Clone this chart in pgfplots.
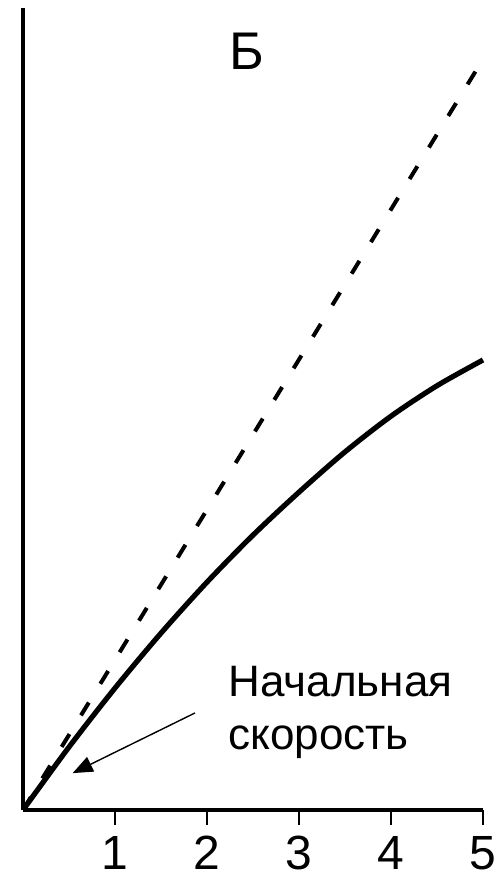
\documentclass[border=0pt]{standalone}
\usepackage{fontspec}
\setmainfont{Liberation Sans}
\usepackage{pgfplots}
\pgfplotsset{compat=1.18}
\usetikzlibrary{arrows.meta}
\begin{document}
\begin{tikzpicture}
\begin{axis}[
  scale only axis, width=230pt, height=401pt,
  xmin=0, xmax=5, ymin=0, ymax=10,
  axis lines=left, axis line style={line width=1.6pt, -},
  xtick={1,2,3,4,5}, ytick=\empty,
  tick align=outside, major tick length=7.5pt,
  tick style={line width=1.2pt, black},
  xticklabel style={font=\fontsize{24}{28}\selectfont, yshift=-2pt},
  /pgf/number format/assume math mode=true,
  clip=false,
]
% dashed straight line (initial velocity)
\addplot[black, line width=2pt, dash pattern=on 7.5pt off 11pt] coordinates {(0,0) (4.93,9.23)};
% measured curve
\addplot[black, line width=2.6pt, smooth, tension=0.5] coordinates {
  (0,0) (0.5,0.785) (1.0,1.520) (1.5,2.205) (2.0,2.841) (2.5,3.427)
  (3.0,3.963) (3.5,4.465) (4.0,4.910) (4.5,5.290) (5.0,5.611)};
% annotation
\draw[line width=0.7pt, -{Triangle[length=10pt, width=8pt]}] (axis cs:1.87,1.21) -- (axis cs:0.54,0.46);
\node[anchor=base west, inner sep=0pt, font=\fontsize{22}{26}\selectfont] at (axis cs:2.23,1.41) {Начальная};
\node[anchor=base west, inner sep=0pt, font=\fontsize{22}{26}\selectfont] at (axis cs:2.23,0.75) {скорость};
\node[anchor=base, inner sep=0pt, font=\fontsize{26.5}{30}\selectfont] at (axis cs:2.43,9.23) {Б};
% page extent
\path (axis cs:-0.25,-0.873) rectangle (axis cs:5.185,10.1);
\end{axis}
\end{tikzpicture}
\end{document}
